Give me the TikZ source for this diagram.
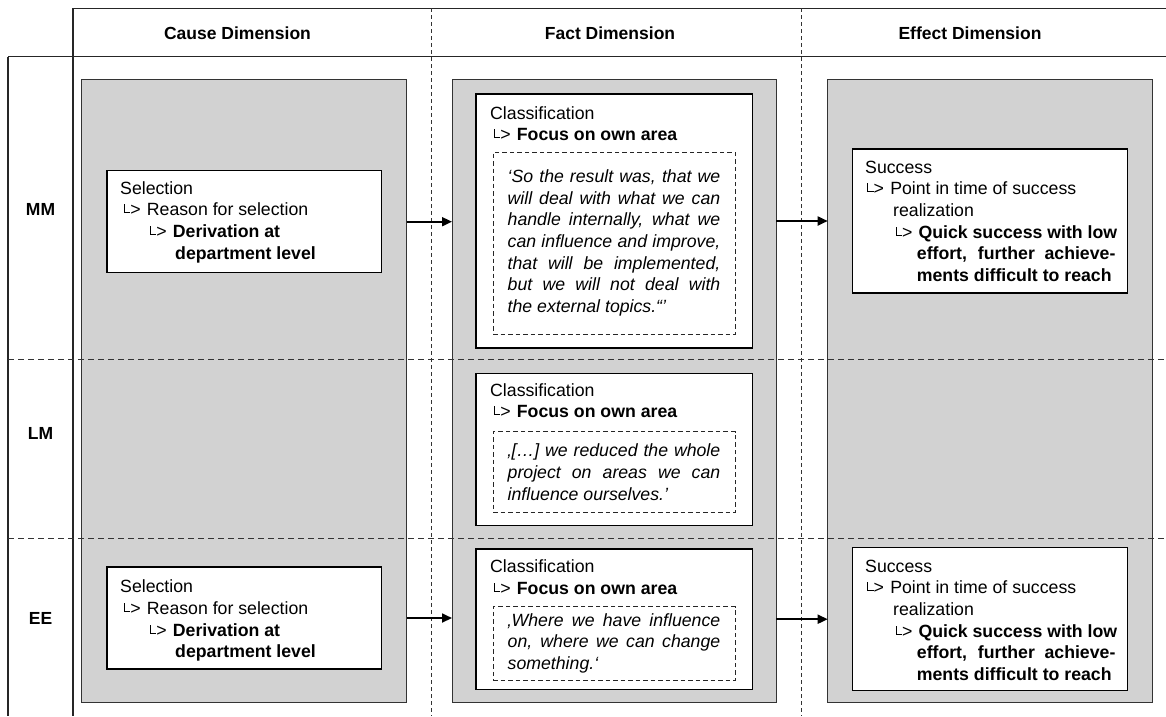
\documentclass[tikz,border=0pt]{standalone}
\usepackage{fontspec}
\setmainfont{Liberation Sans}
\usetikzlibrary{arrows.meta}

\definecolor{boxgray}{RGB}{210,210,210}

% small hook arrow in front of a sub-item
\newcommand\elbow{\makebox[23.4pt][l]{\hspace*{0.5pt}\rule[2.6pt]{0.7pt}{9pt}\rule[2.6pt]{5.6pt}{0.7pt}>}}
\newcommand\bodyfont{\fontsize{17.7pt}{21.7pt}\selectfont}
\newcommand\stack[1]{\parbox[t]{270pt}{\raggedright #1}}

\tikzset{
  frame/.style={line width=1.1pt, draw=black!85},
  coldiv/.style={line width=0.9pt, draw=black!80, dash pattern=on 4pt off 3pt},
  rowdiv/.style={line width=0.9pt, draw=black!80, dash pattern=on 6pt off 4pt},
  column/.style={draw=black!80, line width=1pt, fill=boxgray, anchor=north west,
                 inner sep=0pt, outer sep=0pt},
  card/.style={draw=black, line width=1.2pt, fill=white, anchor=north west,
               inner sep=0pt, outer sep=0pt},
  quote/.style={draw=black!85, line width=0.9pt, dash pattern=on 4.5pt off 3pt,
                fill=white, anchor=north west, inner xsep=14.7pt, inner ysep=0pt,
                outer sep=0pt, text width=212.6pt, align=justify,
                minimum width=242pt, font=\bodyfont\itshape},
  txt/.style={anchor=base west, inner sep=0pt, font=\bodyfont},
  head/.style={font=\fontsize{17.5pt}{21pt}\selectfont\bfseries, inner sep=0pt, anchor=base},
  flow/.style={line width=1.8pt, -{Triangle[length=10pt,width=9pt]}},
}

\begin{document}
\begin{tikzpicture}[x=1pt, y=-1pt]
\useasboundingbox (0,0) rectangle (1166,716);

% table frame
\draw[frame] (73,8.3) -- (1166,8.3);
\draw[frame] (8,56.7) -- (1166,56.7);
\draw[frame] (8,56.7) -- (8,716);
\draw[frame] (73,8.3) -- (73,716);
\draw[coldiv] (431,8.3) -- (431,716);
\draw[coldiv] (801.7,8.3) -- (801.7,716);

% column headers and row labels
\node[head] (hcause) at (237.5,39.3) {Cause Dimension};
\node[head] (hfact) at (610,39.3) {Fact Dimension};
\node[head] (heffect) at (970,39.3) {Effect Dimension};
\node[head] (rmm) at (40.5,215.3) {MM};
\node[head] (rlm) at (40.5,439.3) {LM};
\node[head] (ree) at (40.5,624.5) {EE};

% grey dimension panels
\node[column, minimum width=325pt, minimum height=623.4pt] (causeCol) at (81.7,79.3) {};
\node[column, minimum width=324pt, minimum height=622.7pt] (factCol) at (452,79.3) {};
\node[column, minimum width=325pt, minimum height=622.7pt] (effCol) at (827.7,79.3) {};

% row separators
\draw[rowdiv] (8,359) -- (1166,359);
\draw[rowdiv] (8,538) -- (1166,538);

% cause cards
\node[card, minimum width=274.7pt, minimum height=102pt] (causeMM) at (107,170.7) {};
\node[card, minimum width=274.7pt, minimum height=102pt] (causeEE) at (107,567) {};
\node[txt] (causeMMtxt) at (120,194) {\stack{Selection\\
  \hspace*{3.3pt}\elbow Reason for selection\\
  \hspace*{29.3pt}\elbow\textbf{Derivation at}\\
  \hspace*{55pt}\textbf{department level}}};
\node[txt] (causeEEtxt) at (120,592.7) {\stack{Selection\\
  \hspace*{3.3pt}\elbow Reason for selection\\
  \hspace*{29.3pt}\elbow\textbf{Derivation at}\\
  \hspace*{55pt}\textbf{department level}}};

% fact cards
\node[card, minimum width=276.7pt, minimum height=254pt] (factMM) at (476,94) {};
\node[card, minimum width=276.7pt, minimum height=152.4pt] (factLM) at (476,373.3) {};
\node[card, minimum width=276.7pt, minimum height=140.3pt] (factEE) at (476,549) {};
\node[txt] (factMMtxt) at (490,119) {\stack{Classification\\
  \hspace*{3.3pt}\elbow\textbf{Focus on own area}}};
\node[txt] (factLMtxt) at (490,396) {\stack{Classification\\
  \hspace*{3.3pt}\elbow\textbf{Focus on own area}}};
\node[txt] (factEEtxt) at (490,572.7) {\stack{Classification\\
  \hspace*{3.3pt}\elbow\textbf{Focus on own area}}};
\node[quote, minimum height=182pt] (quoteMM) at (493,152) {‘So the result was, that we\linebreak
  will deal with what we can\linebreak handle internally, what we\linebreak
  can influence and improve,\linebreak that will be implemented,\linebreak
  but we will not deal with\linebreak the external topics.“’};
\node[quote, minimum height=80.6pt] (quoteLM) at (493,431.7) {‚[…] we reduced the whole\linebreak
  project on areas we can\linebreak influence ourselves.’};
\node[quote, minimum height=73.3pt] (quoteEE) at (493,606.7) {‚Where we have influence\linebreak
  on, where we can change\linebreak something.‘};

% effect cards
\node[card, minimum width=275pt, minimum height=144pt] (effMM) at (852.7,149) {};
\node[card, minimum width=275pt, minimum height=143pt] (effEE) at (852.7,547.7) {};
\node[txt] (effMMtxt) at (865,173) {\stack{Success\\
  \hspace*{1.7pt}\elbow Point in time of success\\
  \hspace*{28pt}realization\\
  \hspace*{30pt}\elbow\makebox[198.5pt][s]{\bfseries Quick success with low}\\
  \hspace*{51.7pt}\makebox[198.5pt][s]{\bfseries effort, further achieve-}\\
  \hspace*{51.7pt}\textbf{ments difficult to reach}}};
\node[txt] (effEEtxt) at (865,572) {\stack{Success\\
  \hspace*{1.7pt}\elbow Point in time of success\\
  \hspace*{28pt}realization\\
  \hspace*{30pt}\elbow\makebox[198.5pt][s]{\bfseries Quick success with low}\\
  \hspace*{51.7pt}\makebox[198.5pt][s]{\bfseries effort, further achieve-}\\
  \hspace*{51.7pt}\textbf{ments difficult to reach}}};

% flow between the dimensions
\draw[flow] (causeMM -| causeCol.east) -- (causeMM -| factCol.west);
\draw[flow] (effMM -| factCol.east) -- (effMM -| effCol.west);
\draw[flow] (causeEE -| causeCol.east) -- (causeEE -| factCol.west);
\draw[flow] (effEE -| factCol.east) -- (effEE -| effCol.west);
\end{tikzpicture}
\end{document}
